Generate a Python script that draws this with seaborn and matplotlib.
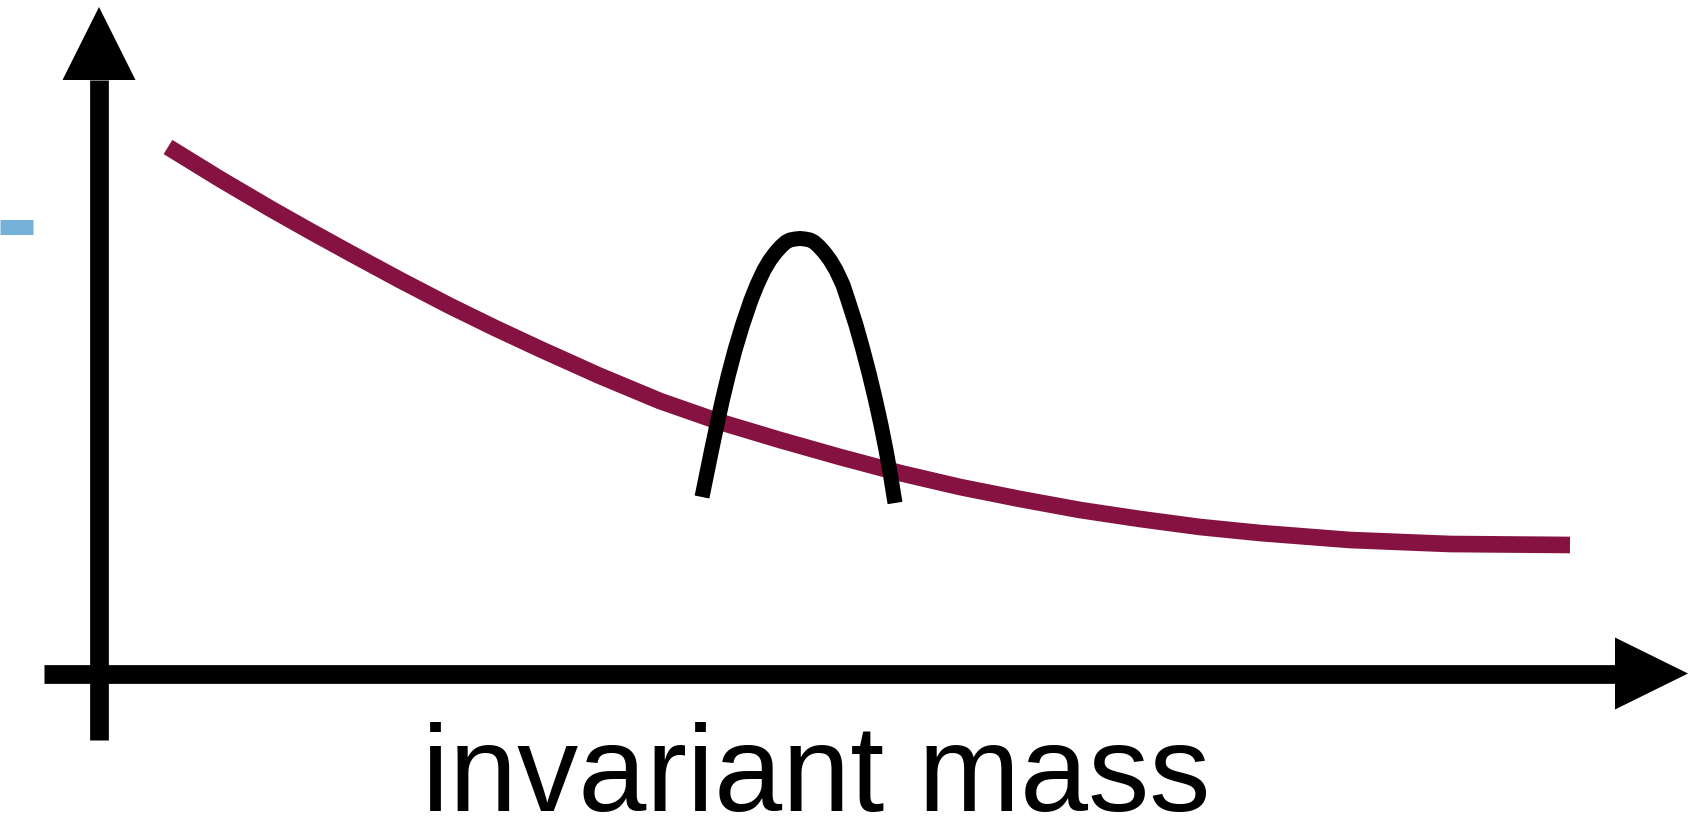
import matplotlib
matplotlib.use("Agg")
import matplotlib.pyplot as plt
from matplotlib.patches import Polygon
import seaborn as sns
import pandas as pd

# smooth falling background (arbitrary units, origin at the axes crossing)
bg_mass = [0.69, 1.21, 1.72, 2.11, 2.51, 3.01, 3.51, 3.96, 4.41, 5.01, 5.61, 6.21,
           6.81, 7.41, 8.01, 8.61, 9.21, 9.81, 10.41, 11.01, 11.61, 12.51, 13.51, 14.71]
bg_counts = [5.265, 4.945, 4.645, 4.425, 4.205, 3.935, 3.675, 3.455, 3.245, 2.975, 2.725, 2.515,
             2.335, 2.165, 2.005, 1.865, 1.745, 1.635, 1.545, 1.465, 1.405, 1.335, 1.295, 1.285]

# resonance peak on top of the background
peak_mass = [6.03, 6.075, 6.126, 6.179, 6.234, 6.294, 6.36, 6.435, 6.52, 6.58, 6.65, 6.71,
             6.77, 6.825, 6.87, 6.91, 6.96, 7.01, 7.06, 7.11, 7.15, 7.195, 7.25, 7.31,
             7.37, 7.44, 7.49, 7.57, 7.64, 7.705, 7.765, 7.82, 7.87, 7.915, 7.96]
peak_counts = [1.765, 1.985, 2.235, 2.485, 2.735, 2.985, 3.235, 3.485, 3.735, 3.885, 4.035, 4.135,
               4.215, 4.275, 4.315, 4.335, 4.345, 4.35, 4.345, 4.335, 4.315, 4.275, 4.215, 4.135,
               4.035, 3.885, 3.735, 3.485, 3.235, 2.985, 2.735, 2.485, 2.235, 1.985, 1.705]

# little blue marker at the left edge
marker_level = 4.47

x_label = "invariant mass"

sns.set_style("white")
plt.rcParams['font.family'] = ['Liberation Sans', 'DejaVu Sans']

fig = plt.figure(figsize=(17.01, 8.39), dpi=100)
ax = fig.add_axes([0, 0, 1, 1])
ax.set_xlim(-0.99, 16.02)
ax.set_ylim(-1.655, 6.735)
ax.axis("off")

bg = pd.DataFrame({"mass": bg_mass, "counts": bg_counts})
pk = pd.DataFrame({"mass": peak_mass, "counts": peak_counts})

sns.lineplot(data=bg, x="mass", y="counts", sort=False, estimator=None,
             color="#861241", lw=12, solid_capstyle="butt", solid_joinstyle="round", ax=ax)
sns.lineplot(data=pk, x="mass", y="counts", sort=False, estimator=None,
             color="black", lw=10.8, solid_capstyle="butt", solid_joinstyle="round", ax=ax, zorder=4)

# hand-drawn style axes with arrow heads
ax.plot([0, 0], [-0.665, 5.94], color="black", lw=13.5, solid_capstyle="butt", zorder=5)
ax.add_patch(Polygon([[-0.365, 5.935], [0.365, 5.935], [0, 6.665]], closed=True,
                     facecolor="black", edgecolor="none", zorder=5))
ax.plot([-0.55, 15.17], [0, 0], color="black", lw=13.5, solid_capstyle="butt", zorder=5)
ax.add_patch(Polygon([[15.16, 0.36], [15.16, -0.36], [15.89, 0]], closed=True,
                     facecolor="black", edgecolor="none", zorder=5))

ax.hlines(marker_level, -0.99, -0.66, color="#74b0d7", lw=10.8, capstyle="butt")

ax.text(7.17, -1.38, x_label, fontsize=88, ha="center", va="baseline", color="black")

fig.savefig("out.png", dpi=100)
